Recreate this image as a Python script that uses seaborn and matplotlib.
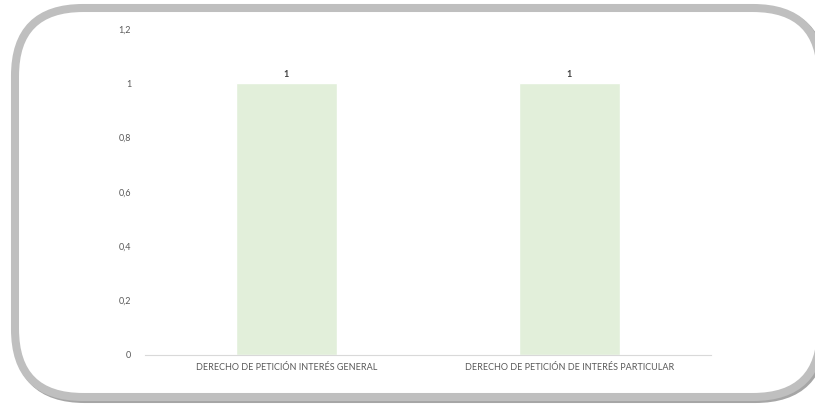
import pandas as pd
import numpy as np
import seaborn as sns
import matplotlib.pyplot as plt
import matplotlib.transforms as mtransforms
from matplotlib.patches import FancyBboxPatch
from matplotlib.ticker import FuncFormatter

categorias = ["DERECHO DE PETICIÓN INTERÉS GENERAL",
              "DERECHO DE PETICIÓN DE INTERÉS PARTICULAR"]
valores = [1, 1]
yticks = [0, 0.2, 0.4, 0.6, 0.8, 1.0, 1.2]

df = pd.DataFrame({"tipo": categorias, "cantidad": valores})

sns.set_style("white")
plt.rcParams['font.family'] = ['Lato', 'DejaVu Sans']

W, H = 815, 404
fig = plt.figure(figsize=(W / 100, H / 100), dpi=100)

# rounded frame, drawn in pixel units (y goes up from the bottom)
# filled white so Agg does not clip the curved corners outside the canvas
px = mtransforms.Affine2D().scale(1 / W, 1 / H) + fig.transFigure
sombra = FancyBboxPatch((17, 5), 806, 389, boxstyle="round,pad=0,rounding_size=68",
                        transform=px, facecolor="white", edgecolor="#a6a6a6",
                        linewidth=5.8, zorder=-2)
marco = FancyBboxPatch((15, 7), 806, 389, boxstyle="round,pad=0,rounding_size=68",
                       transform=px, facecolor="white", edgecolor="#bfbfbf",
                       linewidth=5.8, zorder=-1)
fig.patches.append(sombra)
fig.patches.append(marco)

ax = fig.add_axes([145 / W, 1 - 355 / H, 566 / W, 326 / H])
sns.barplot(data=df, x="tipo", y="cantidad", color="#e2efda", width=0.354,
            saturation=1, ax=ax)

ax.set_ylim(0, 1.2)
ax.set_yticks(yticks)
ax.yaxis.set_major_formatter(FuncFormatter(lambda v, p: f"{v:g}".replace(".", ",")))
ax.set_xlabel("")
ax.set_ylabel("")
sns.despine(ax=ax, left=True)
ax.spines["bottom"].set_color("#d9d9d9")
ax.spines["bottom"].set_linewidth(0.8)
ax.tick_params(axis="both", length=0, labelsize=6.5, labelcolor="#595959")
ax.tick_params(axis="y", pad=10)
ax.tick_params(axis="x", pad=6)

for i, v in enumerate(valores):
    ax.annotate(f"{v}", (i, v), xytext=(0, 3), textcoords="offset points",
                ha="center", va="bottom", fontsize=6.5, color="#404040", fontweight="bold")

fig.savefig("out.png", dpi=100)
